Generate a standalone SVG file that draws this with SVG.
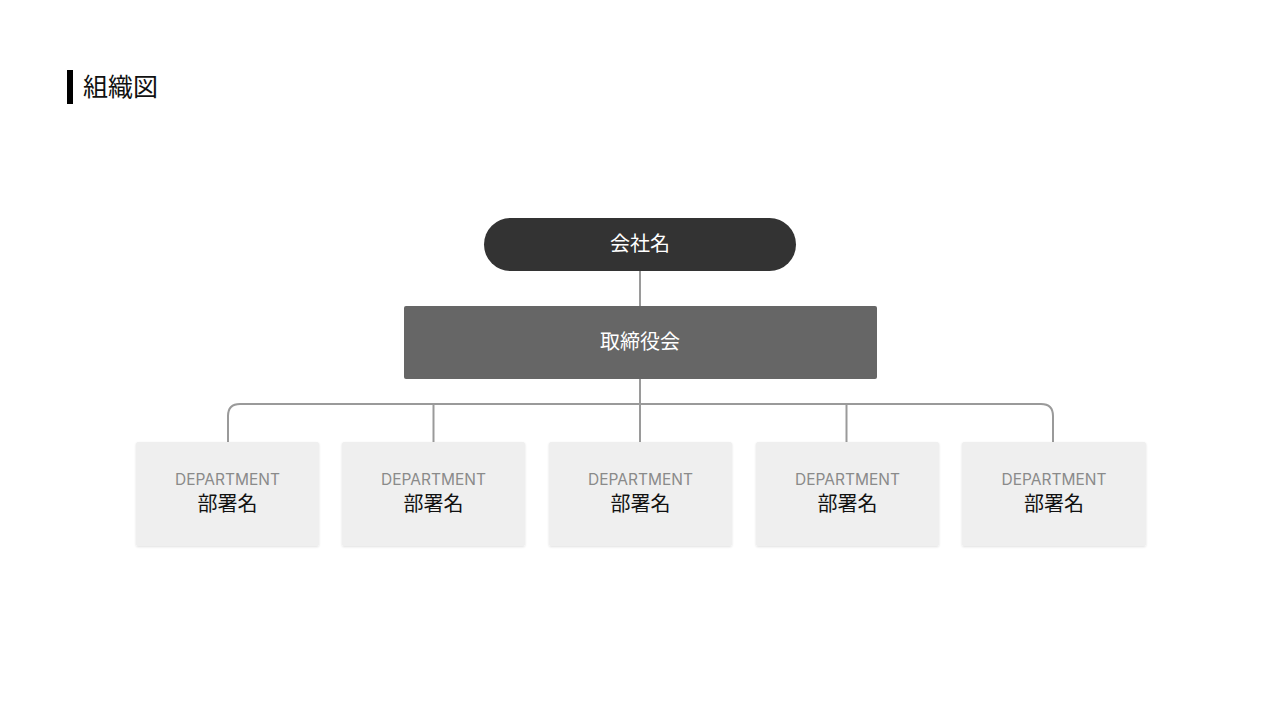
<svg xmlns="http://www.w3.org/2000/svg" width="1280" height="720" viewBox="0 0 1280 720">
<style>
.dept rect{fill:#efefef}
.lbl{font-family:"Inter","Noto Sans",sans-serif;font-size:15.5px;fill:#8a8a8a;text-anchor:middle}
.name{font-family:"Noto Sans CJK JP",sans-serif;font-size:20px;fill:#111;text-anchor:middle}
.conn{stroke:#9a9a9a;stroke-width:2;fill:none}
.white{font-family:"Noto Sans CJK JP",sans-serif;font-size:20px;fill:#fff;text-anchor:middle}
</style>
<defs>
<filter id="sh" x="-10%" y="-10%" width="120%" height="130%">
<feDropShadow dx="0" dy="1" stdDeviation="1" flood-color="#000" flood-opacity="0.12"/>
</filter>
</defs>
<rect width="1280" height="720" fill="#fff"/>
<g id="title">
<rect x="67" y="70" width="6" height="34" fill="#000"/>
<text x="83" y="96" font-size="25" fill="#111" font-family="Noto Sans CJK JP, sans-serif">組織図</text>
</g>
<g id="connectors" class="conn">
<line x1="640" y1="271" x2="640" y2="306"/>
<line x1="640" y1="379" x2="640" y2="442"/>
<path d="M228 442 V416 Q228 404 240 404 H1041 Q1053 404 1053 416 V442"/>
<line x1="433.5" y1="404" x2="433.5" y2="442"/>
<line x1="846.5" y1="404" x2="846.5" y2="442"/>
</g>
<g id="company">
<rect x="484" y="218" width="312" height="53" rx="26.5" fill="#333"/>
<text x="640" y="251" class="white">会社名</text>
</g>
<g id="board">
<rect x="404" y="306" width="473" height="73" rx="2" fill="#666"/>
<text x="640" y="349" class="white">取締役会</text>
</g>
<g id="dept1" class="dept">
<rect x="136" y="442" width="183" height="104" rx="2" filter="url(#sh)"/>
<text x="227.5" y="485" class="lbl">DEPARTMENT</text>
<text x="227.5" y="511" class="name">部署名</text>
</g>
<g id="dept2" class="dept">
<rect x="342" y="442" width="183" height="104" rx="2" filter="url(#sh)"/>
<text x="433.5" y="485" class="lbl">DEPARTMENT</text>
<text x="433.5" y="511" class="name">部署名</text>
</g>
<g id="dept3" class="dept">
<rect x="549" y="442" width="183" height="104" rx="2" filter="url(#sh)"/>
<text x="640.5" y="485" class="lbl">DEPARTMENT</text>
<text x="640.5" y="511" class="name">部署名</text>
</g>
<g id="dept4" class="dept">
<rect x="756" y="442" width="183" height="104" rx="2" filter="url(#sh)"/>
<text x="847.5" y="485" class="lbl">DEPARTMENT</text>
<text x="847.5" y="511" class="name">部署名</text>
</g>
<g id="dept5" class="dept">
<rect x="962" y="442" width="184" height="104" rx="2" filter="url(#sh)"/>
<text x="1054" y="485" class="lbl">DEPARTMENT</text>
<text x="1054" y="511" class="name">部署名</text>
</g>
</svg>
